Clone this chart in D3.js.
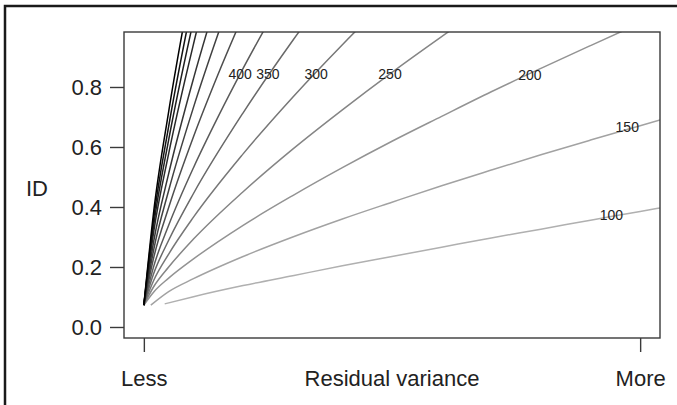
<!DOCTYPE html>
<html lang="en">
<head>
<meta charset="UTF-8">
<title>ID vs residual variance</title>
<script src="https://d3js.org/d3.v7.min.js"></script>
<style>
    body { margin: 0; background: #fff; }
    svg { display: block; font-family: "Liberation Sans", Arial, Helvetica, sans-serif; }
</style>
</head>
<body>
<div id="chart"></div>
<script>
// sample sizes, one curve each
const sampleSizes = [100, 150, 200, 250, 300, 350, 400, 450, 500, 550, 600, 650, 700, 750];

// [residual variance (0 = Less, 1 = More), ID]
const id100 = [[0.042, 0.077], [0.1, 0.101], [0.2, 0.138], [0.3, 0.171], [0.4, 0.204], [0.5, 0.235], [0.6, 0.266], [0.7, 0.297], [0.8, 0.326], [0.9, 0.356], [1.0, 0.385], [1.04, 0.397]];
const id150 = [[0.014, 0.073], [0.05, 0.118], [0.1, 0.161], [0.2, 0.235], [0.3, 0.300], [0.4, 0.360], [0.5, 0.416], [0.6, 0.471], [0.7, 0.523], [0.8, 0.574], [0.9, 0.623], [1.0, 0.671], [1.04, 0.690]];
const id200 = [[0, 0.073], [0.02, 0.117], [0.05, 0.163], [0.1, 0.227], [0.2, 0.339], [0.3, 0.438], [0.4, 0.531], [0.5, 0.619], [0.6, 0.702], [0.7, 0.784], [0.8, 0.862], [0.9, 0.938], [1.0, 1.013]];
const id250 = [[0, 0.073], [0.02, 0.135], [0.05, 0.200], [0.1, 0.293], [0.2, 0.451], [0.3, 0.593], [0.4, 0.724], [0.5, 0.849], [0.6, 0.968], [0.7, 1.083]];
const id300 = [[0, 0.073], [0.02, 0.156], [0.05, 0.243], [0.1, 0.366], [0.2, 0.577], [0.3, 0.766], [0.4, 0.941], [0.5, 1.107]];
const id350 = [[0, 0.073], [0.02, 0.179], [0.05, 0.289], [0.1, 0.445], [0.2, 0.714], [0.3, 0.955], [0.4, 1.178]];
const id400 = [[0, 0.073], [0.02, 0.203], [0.05, 0.339], [0.1, 0.531], [0.15, 0.702], [0.2, 0.862], [0.25, 1.013]];
const id450 = [[0, 0.073], [0.02, 0.232], [0.05, 0.398], [0.1, 0.634], [0.15, 0.844], [0.2, 1.039]];
const id500 = [[0, 0.073], [0.02, 0.259], [0.05, 0.455], [0.1, 0.732], [0.15, 0.979], [0.2, 1.208]];
const id550 = [[0, 0.073], [0.02, 0.287], [0.05, 0.511], [0.1, 0.828], [0.15, 1.110]];
const id600 = [[0, 0.073], [0.02, 0.319], [0.05, 0.578], [0.1, 0.943], [0.15, 1.268]];
const id650 = [[0, 0.073], [0.02, 0.342], [0.05, 0.624], [0.1, 1.022]];
const id700 = [[0, 0.073], [0.02, 0.364], [0.05, 0.669], [0.1, 1.101]];
const id750 = [[0, 0.073], [0.02, 0.387], [0.05, 0.718], [0.1, 1.184]];
const curves = [id100, id150, id200, id250, id300, id350, id400, id450, id500, id550, id600, id650, id700, id750];

// curve labels that are printed in the plot
const labelNames = ["100", "150", "200", "250", "300", "350", "400"];
const labelX = [0.942, 0.974, 0.778, 0.496, 0.347, 0.250, 0.194];
const labelY = [0.373, 0.667, 0.840, 0.843, 0.843, 0.843, 0.843];

const yTicks = [0.0, 0.2, 0.4, 0.6, 0.8];
const xTicks = [0, 1];
const xTickLabels = ["Less", "More"];

const width = 677, height = 405;
const plot = { left: 124, right: 660, top: 32, bottom: 338 };

const svg = d3.select("#chart").append("svg")
    .attr("width", width)
    .attr("height", height);

// outer frame (right and bottom sides run off the picture)
svg.append("rect")
    .attr("x", 5).attr("y", 6)
    .attr("width", 700).attr("height", 420)
    .attr("fill", "none")
    .attr("stroke", "#1a1a1a")
    .attr("stroke-width", 2.5);

const x = d3.scaleLinear().domain([-0.04, 1.04]).range([plot.left, plot.right]);
const y = d3.scaleLinear().domain([-0.0367, 0.9833]).range([plot.bottom, plot.top]);

svg.append("clipPath").attr("id", "clip")
    .append("rect")
    .attr("x", plot.left).attr("y", plot.top)
    .attr("width", plot.right - plot.left)
    .attr("height", plot.bottom - plot.top);

// light grey for small samples, black for the largest
const grey = d3.scaleLinear()
    .domain(d3.extent(sampleSizes))
    .range([0.72, 0]);

const line = d3.line()
    .x(d => x(d[0]))
    .y(d => y(d[1]))
    .curve(d3.curveMonotoneX);

svg.append("g")
    .attr("clip-path", "url(#clip)")
    .selectAll("path")
    .data(curves)
    .join("path")
    .attr("d", line)
    .attr("fill", "none")
    .attr("stroke", (d, i) => d3.gray(grey(sampleSizes[i]) * 100).formatHex())
    .attr("stroke-width", 1.5);

svg.append("g")
    .selectAll("text")
    .data(labelNames)
    .join("text")
    .attr("x", (d, i) => x(labelX[i]))
    .attr("y", (d, i) => y(labelY[i]))
    .attr("dy", "0.36em")
    .attr("text-anchor", "middle")
    .attr("fill", "#222")
    .style("font-size", "14px")
    .text(d => d);

// plot box
svg.append("rect")
    .attr("x", plot.left).attr("y", plot.top)
    .attr("width", plot.right - plot.left)
    .attr("height", plot.bottom - plot.top)
    .attr("fill", "none")
    .attr("stroke", "#3a3a3a")
    .attr("stroke-width", 1.4);

const yAxis = svg.append("g")
    .attr("transform", `translate(${plot.left},0)`)
    .call(d3.axisLeft(y).tickValues(yTicks).tickFormat(d3.format(".1f")).tickSize(14).tickPadding(8));

const xAxis = svg.append("g")
    .attr("transform", `translate(0,${plot.bottom})`)
    .call(d3.axisBottom(x).tickValues(xTicks).tickFormat((d, i) => xTickLabels[i]).tickSize(14).tickPadding(18));

[yAxis, xAxis].forEach(ax => {
    ax.select(".domain").remove();
    ax.selectAll(".tick line").attr("stroke", "#3a3a3a").attr("stroke-width", 1.4);
    ax.selectAll(".tick text")
        .attr("fill", "#222")
        .style("font-size", "22px")
        .style("font-family", "'Liberation Sans', Arial, sans-serif");
});

svg.append("text")
    .attr("x", (plot.left + plot.right) / 2)
    .attr("y", 386)
    .attr("text-anchor", "middle")
    .attr("fill", "#222")
    .style("font-size", "22px")
    .text("Residual variance");

svg.append("text")
    .attr("x", 37)
    .attr("y", 196)
    .attr("text-anchor", "middle")
    .attr("fill", "#222")
    .style("font-size", "22px")
    .text("ID");
</script>
</body>
</html>
